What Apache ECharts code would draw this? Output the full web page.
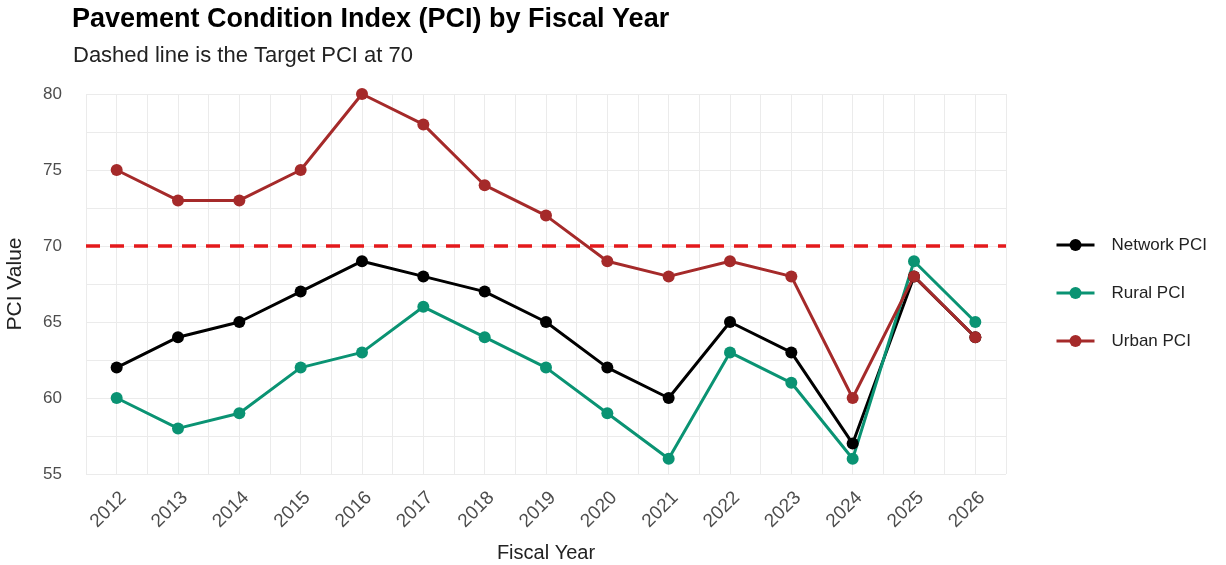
<!DOCTYPE html>
<html>
<head>
<meta charset="utf-8">
<script src="https://cdn.jsdelivr.net/npm/echarts@6/dist/echarts.min.js"></script>
<style>
  html, body { margin: 0; padding: 0; background: #fff; }
  #chart { width: 1226px; height: 565px; }
</style>
</head>
<body>
<div id="chart"></div>
<script>
const years = [2012, 2013, 2014, 2015, 2016, 2017, 2018, 2019, 2020, 2021, 2022, 2023, 2024, 2025, 2026];
const networkPCI = [62, 64, 65, 67, 69, 68, 67, 65, 62, 60, 65, 63, 57, 68, 64];
const ruralPCI = [60, 58, 59, 62, 63, 66, 64, 62, 59, 56, 63, 61, 56, 69, 65];
const urbanPCI = [75, 73, 73, 75, 80, 78, 74, 72, 69, 68, 69, 68, 60, 68, 64];
const targetPCI = 70;

const myChart = echarts.init(document.getElementById('chart'));

function pairs(values) {
  return years.map((y, i) => [y, values[i]]);
}

function lineSeries(name, color, values) {
  return {
    name: name,
    type: 'line',
    data: pairs(values),
    symbol: 'circle',
    symbolSize: 12,
    lineStyle: { width: 3, color: color },
    itemStyle: { color: color },
    emphasis: { disabled: true }
  };
}

const greyText = '#4d4d4d';
const gridColor = '#ebebeb';
const font = 'Liberation Sans';

const option = {
  animation: false,
  title: [
    {
      text: 'Pavement Condition Index (PCI) by Fiscal Year',
      left: 72,
      top: 6,
      padding: 0,
      textStyle: { fontFamily: font, fontSize: 27, fontWeight: 'bold', color: '#000' }
    },
    {
      text: 'Dashed line is the Target PCI at 70',
      left: 73,
      top: 45,
      padding: 0,
      textStyle: { fontFamily: font, fontSize: 22, fontWeight: 'normal', color: '#222' }
    }
  ],
  legend: {
    orient: 'vertical',
    left: 1050,
    top: 230,
    itemGap: 28,
    itemWidth: 38,
    itemHeight: 15,
    lineStyle: { width: 3 },
    textStyle: { fontFamily: font, fontSize: 17, lineHeight: 20, color: '#222', padding: [0, 0, 0, 12] },
    data: ['Network PCI', 'Rural PCI', 'Urban PCI']
  },
  grid: {
    left: 86,
    right: 220,
    top: 94,
    bottom: 91,
    outerBoundsMode: 'none'
  },
  xAxis: {
    type: 'value',
    min: 2011.5,
    max: 2026.5,
    interval: 0.5,
    name: 'Fiscal Year',
    nameLocation: 'middle',
    nameGap: 69,
    nameTextStyle: { fontFamily: font, fontSize: 20, color: '#222' },
    axisLine: { show: false },
    axisTick: { show: false },
    axisLabel: {
      rotate: 45,
      verticalAlign: 'top',
      fontFamily: font,
      fontSize: 19,
      color: greyText,
      margin: 14,
      showMinLabel: false,
      showMaxLabel: false,
      formatter: function (v) { return Number.isInteger(v) ? String(v) : ''; }
    },
    splitLine: { show: true, lineStyle: { color: gridColor, width: 1 } }
  },
  yAxis: {
    type: 'value',
    min: 55,
    max: 80,
    interval: 2.5,
    name: 'PCI Value',
    nameLocation: 'middle',
    nameGap: 60,
    nameTextStyle: { fontFamily: font, fontSize: 21, color: '#222' },
    axisLine: { show: false },
    axisTick: { show: false },
    axisLabel: {
      fontFamily: font,
      fontSize: 17,
      color: greyText,
      margin: 24,
      formatter: function (v) { return v % 5 === 0 ? String(v) : ''; }
    },
    splitLine: { show: true, lineStyle: { color: gridColor, width: 1 } }
  },
  series: [
    Object.assign(lineSeries('Network PCI', '#000000', networkPCI), {
      markLine: {
        silent: true,
        symbol: 'none',
        label: { show: false },
        lineStyle: { color: '#e41a1c', type: [14, 10], width: 3.5 },
        data: [{ yAxis: targetPCI }]
      }
    }),
    lineSeries('Rural PCI', '#0a9373', ruralPCI),
    lineSeries('Urban PCI', '#a52a2a', urbanPCI)
  ]
};

myChart.setOption(option);

window.addEventListener('resize', function () {
  myChart.resize();
});
</script>
</body>
</html>
